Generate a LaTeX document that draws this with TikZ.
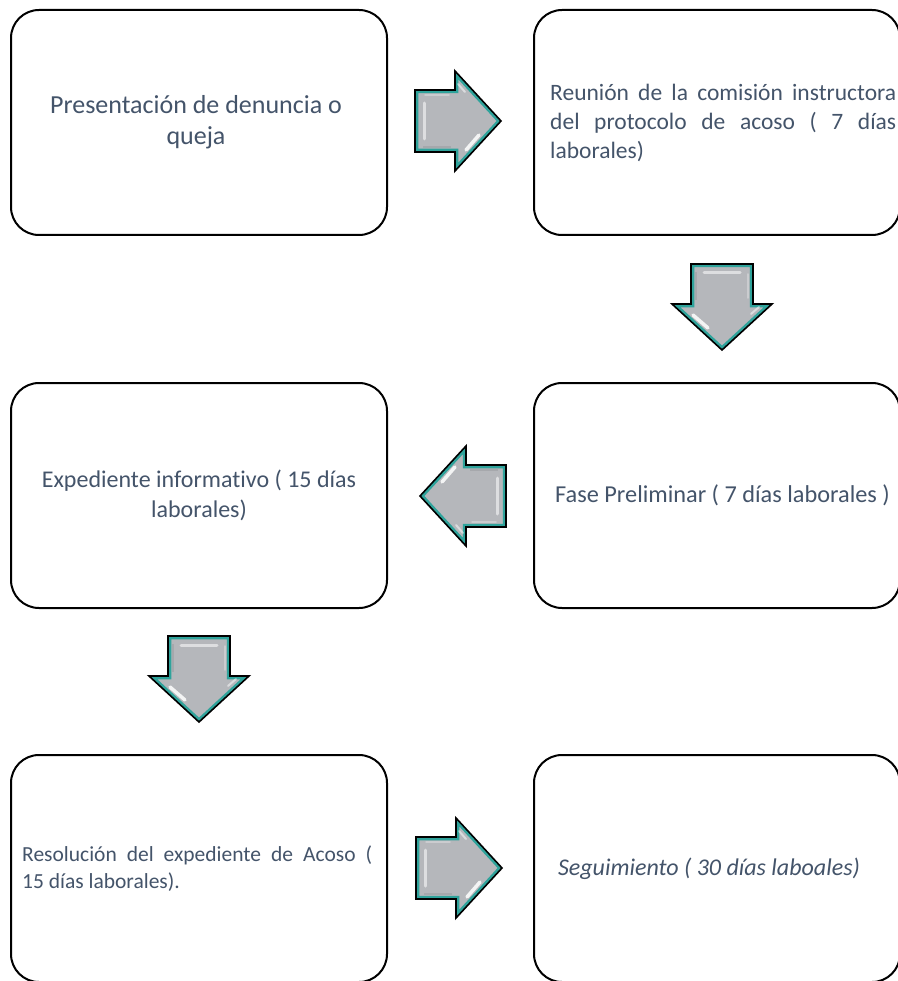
\documentclass[tikz,border=0pt]{standalone}
\usepackage{fontspec}
\setmainfont{Carlito}[RawFeature={-liga}]
\definecolor{txt}{HTML}{44546A}
\definecolor{agray}{HTML}{B5B7BB}
\definecolor{ateal}{HTML}{2FA39B}
\tikzset{
  box/.style={draw=black, line width=2pt, rounded corners=28pt, inner sep=0pt},
  lbl/.style={text=txt, inner sep=0pt},
  arrowshape/.style={insert path={(-86,-31) -- (-46,-31) -- (-46,-50) -- (0,0) -- (-46,50) -- (-46,31) -- (-86,31) -- cycle}},
  blockarrow/.pic={
    \fill[agray, arrowshape];
    \begin{scope}
      \clip[arrowshape];
      \draw[ateal, line width=6.5pt, line join=miter, arrowshape];
      \draw[white, opacity=.55, line width=3pt, line cap=round] (-77,-18) -- (-77,18);
      \draw[white, opacity=.3, line width=1.5pt, line cap=round] (-76,-26) -- (-52,-26);
      \draw[white, opacity=.85, line width=3.5pt, line cap=round] (-35,29) -- (-22,14);
      \draw[white, opacity=.5, line width=2pt, line cap=round] (-43,-37) -- (-36,-29);
      \draw[black, opacity=.08, line width=2pt] (-78,26) -- (-50,26);
    \end{scope}
    \draw[black, line width=1.6pt, line join=miter, arrowshape];
  }
}
\begin{document}
\begin{tikzpicture}[x=1pt, y=-1pt]
\useasboundingbox (0,0) rectangle (897,981);
\fill[white] (0,0) rectangle (897,981);
% boxes
\node[box, minimum width=376pt, minimum height=225pt] (b1) at (199,122.5) {};
\node[box, minimum width=366pt, minimum height=225pt] (b2) at (717,122.5) {};
\node[box, minimum width=376pt, minimum height=225pt] (b3) at (199,495.5) {};
\node[box, minimum width=366pt, minimum height=225pt] (b4) at (717,495.5) {};
\node[box, minimum width=376pt, minimum height=227pt] (b5) at (199,868.5) {};
\node[box, minimum width=366pt, minimum height=227pt] (b6) at (717,868.5) {};
% texts
\node[lbl, align=center, font=\fontsize{26}{31}\selectfont] (t1) at ([xshift=-3pt]b1.center) {Presentación de denuncia o\\queja};
\node[lbl, anchor=west, text width=346pt, align=justify, font=\fontsize{23.5}{29}\selectfont] (t2) at ([xshift=17pt]b2.west) {Reunión de la comisión instructora\linebreak del protocolo de acoso ( 7 días\linebreak laborales)};
\node[lbl, align=center, font=\fontsize{24}{29.5}\selectfont] (t3) at (b3.center) {Expediente informativo ( 15 días\\laborales)};
\node[lbl, font=\fontsize{24.3}{29}\selectfont] (t4) at ([xshift=5.5pt]b4.center) {Fase Preliminar ( 7 días laborales )};
\node[lbl, anchor=west, text width=350pt, align=justify, font=\fontsize{21.5}{27}\selectfont] (t5) at ([xshift=12pt]b5.west) {Resolución del expediente de Acoso (\linebreak 15 días laborales).};
\node[lbl, font=\fontsize{24}{29}\selectfont\itshape] (t6) at ([xshift=-8pt]b6.center) {Seguimiento ( 30 días laboales)};
% block arrows
\path (501,121) pic {blockarrow};
\path (722,350) pic[rotate=-90] {blockarrow};
\path (420,496) pic[rotate=180] {blockarrow};
\path (199,722) pic[rotate=-90] {blockarrow};
\path (502,868) pic {blockarrow};
\end{tikzpicture}
\end{document}
